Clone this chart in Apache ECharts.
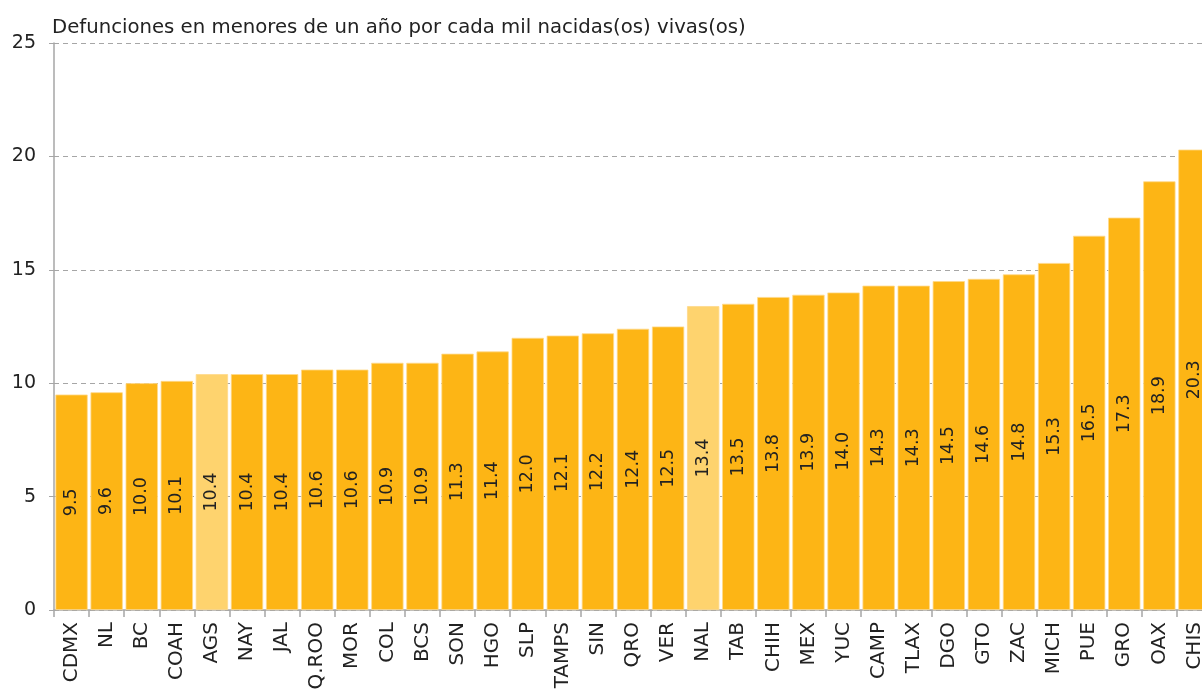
<!DOCTYPE html>
<html>
<head>
<meta charset="utf-8">
<script src="https://cdn.jsdelivr.net/npm/echarts@6/dist/echarts.min.js"></script>
<style>
  html, body { margin: 0; padding: 0; background: #fff; overflow: hidden; }
  #chart { width: 1212px; height: 690px; }
</style>
</head>
<body>
<div id="chart"></div>
<script>
// Tasa de mortalidad infantil por entidad federativa
const estados = ['CDMX','NL','BC','COAH','AGS','NAY','JAL','Q.ROO','MOR','COL','BCS','SON','HGO','SLP','TAMPS','SIN','QRO','VER','NAL','TAB','CHIH','MEX','YUC','CAMP','TLAX','DGO','GTO','ZAC','MICH','PUE','GRO','OAX','CHIS'];
const tasas = [9.5,9.6,10.0,10.1,10.4,10.4,10.4,10.6,10.6,10.9,10.9,11.3,11.4,12.0,12.1,12.2,12.4,12.5,13.4,13.5,13.8,13.9,14.0,14.3,14.3,14.5,14.6,14.8,15.3,16.5,17.3,18.9,20.3];
const resaltados = ['AGS', 'NAL'];
const yTicks = [0, 5, 10, 15, 20, 25];

const FONT = '"DejaVu Sans", Verdana, sans-serif';
const colorBase = '#FDB515';
const colorResalte = '#FED36E';

const chart = echarts.init(document.getElementById('chart'), null, { renderer: 'canvas' });
chart.setOption({
  animation: false,
  textStyle: { fontFamily: FONT },
  title: {
    text: 'Defunciones en menores de un año por cada mil nacidas(os) vivas(os)',
    left: 47, top: 13,
    textStyle: { fontFamily: FONT, fontSize: 19.7, fontWeight: 'normal', color: '#222' }
  },
  grid: { left: 54, top: 43, bottom: 80, right: 0, containLabel: false, outerBoundsMode: 'none' },
  xAxis: {
    type: 'category',
    data: estados,
    axisLine: { lineStyle: { color: '#A6A6A6', width: 1.5 } },
    axisTick: { show: true, length: 7, lineStyle: { color: '#A6A6A6', width: 1.5 } },
    axisLabel: { rotate: 90, interval: 0, margin: 12, fontSize: 20, color: '#222', fontFamily: FONT }
  },
  yAxis: {
    type: 'value',
    min: yTicks[0], max: yTicks[yTicks.length - 1], interval: 5,
    axisLine: { show: true, lineStyle: { color: '#A6A6A6', width: 1.5 } },
    axisTick: { show: true, length: 5, lineStyle: { color: '#A6A6A6' } },
    axisLabel: { fontSize: 19, color: '#222', margin: 18, fontFamily: FONT },
    splitLine: { show: true, lineStyle: { color: '#A6A6A6', type: [5, 4], width: 1.2 } }
  },
  series: [{
    type: 'bar',
    barCategoryGap: '8%',
    data: tasas.map((v, i) => ({
      value: v,
      itemStyle: { color: resaltados.includes(estados[i]) ? colorResalte : colorBase }
    })),
    itemStyle: { borderColor: '#FFD98A', borderWidth: 0.8 },
    label: {
      show: true,
      position: 'inside',
      rotate: 90,
      fontSize: 17.5,
      color: '#222',
      fontFamily: FONT,
      formatter: p => p.value.toFixed(1)
    }
  }]
});
</script>
</body>
</html>
